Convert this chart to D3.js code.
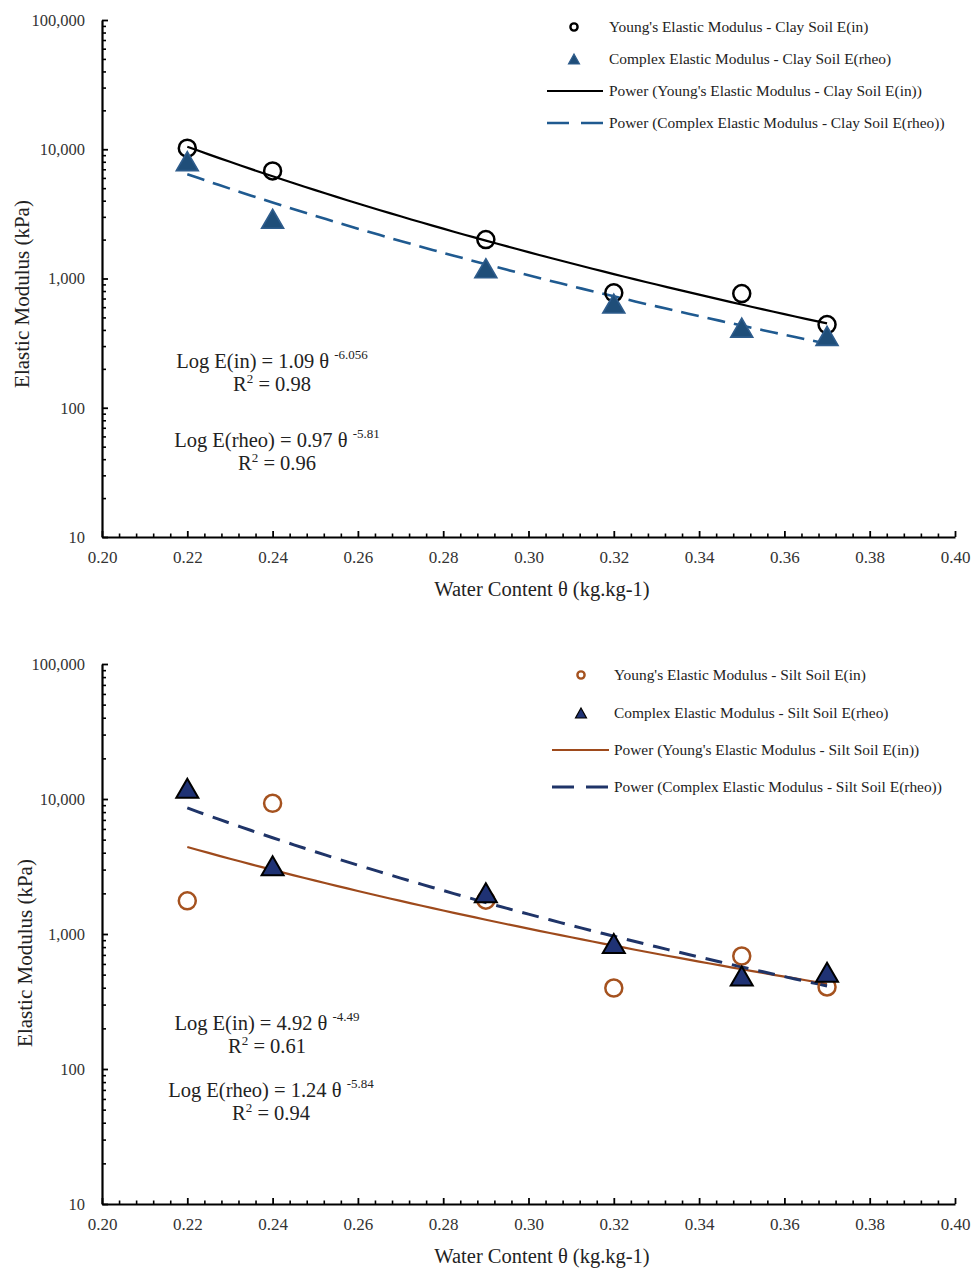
<!DOCTYPE html>
<html>
<head>
<meta charset="utf-8">
<script src="https://cdn.jsdelivr.net/npm/d3@7"></script>
<style>
  body { margin: 0; background: #fff; }
  svg { display: block; font-family: "Liberation Serif", "Times New Roman", serif; }
</style>
</head>
<body>
<div id="chart"></div>
<script>
// water content (x) shared by both panels
const theta = [0.22, 0.24, 0.29, 0.32, 0.35, 0.37];

// clay soil, kPa
const clayEin = [10200, 6800, 2000, 775, 765, 440];
const clayErheo = [8100, 2900, 1200, 640, 417, 360];
// silt soil, kPa
const siltEin = [1760, 9300, 1780, 398, 687, 405];
const siltErheo = [12000, 3200, 2020, 850, 489, 520];

// power trend coefficients E = a * theta^b (as printed on the chart)
const clayFitA = [1.09, 0.97];
const clayFitB = [-6.056, -5.81];
const siltFitA = [4.92, 1.24];
const siltFitB = [-4.49, -5.84];
const fitR2Clay = ["0.98", "0.96"];
const fitR2Silt = ["0.61", "0.94"];

const xTicks = [0.20, 0.22, 0.24, 0.26, 0.28, 0.30, 0.32, 0.34, 0.36, 0.38, 0.40];
const yTicks = [10, 100, 1000, 10000, 100000];

const legendClay = [
  "Young's Elastic Modulus - Clay Soil E(in)",
  "Complex Elastic Modulus - Clay Soil E(rheo)",
  "Power (Young's Elastic Modulus - Clay Soil E(in))",
  "Power (Complex Elastic Modulus - Clay Soil E(rheo))"
];
const legendSilt = [
  "Young's Elastic Modulus - Silt Soil E(in)",
  "Complex Elastic Modulus - Silt Soil E(rheo)",
  "Power (Young's Elastic Modulus - Silt Soil E(in))",
  "Power (Complex Elastic Modulus - Silt Soil E(rheo))"
];

const width = 971, height = 1268;

const svg = d3.select("#chart").append("svg")
    .attr("width", width)
    .attr("height", height)
    .attr("viewBox", [0, 0, width, height]);

// triangle centred on its bounding box, like the spreadsheet marker
function tri(w, h) {
  return `M0,${-h/2}L${w/2},${h/2}L${-w/2},${h/2}Z`;
}

function panel(opt) {
  const x = d3.scaleLinear().domain([0.2, 0.4]).range([102, 955]);
  const y = d3.scaleLog().domain([10, 100000]).range([opt.bottom, opt.top]);
  const g = svg.append("g");

  // minor ticks
  const xMinor = d3.range(0.204, 0.4, 0.004).filter(v => Math.abs(v * 50 - Math.round(v * 50)) > 1e-6);
  const yMinor = [];
  for (let p = 10; p < 100000; p *= 10) for (let k = 2; k <= 9; k++) yMinor.push(p * k);

  g.append("g")
      .attr("transform", `translate(0,${opt.bottom})`)
      .call(d3.axisBottom(x).tickValues(xMinor).tickSize(-3.5).tickFormat(""))
      .call(a => a.select(".domain").remove())
      .call(a => a.selectAll("line").attr("stroke", "#000").attr("stroke-width", 1.6));
  g.append("g")
      .attr("transform", "translate(102,0)")
      .call(d3.axisLeft(y).tickValues(yMinor).tickSize(-4).tickFormat(""))
      .call(a => a.select(".domain").remove())
      .call(a => a.selectAll("line").attr("stroke", "#000").attr("stroke-width", 1.6));

  // major axes
  g.append("g")
      .attr("transform", `translate(0,${opt.bottom})`)
      .call(d3.axisBottom(x).tickValues(xTicks).tickSizeInner(-6).tickSizeOuter(0)
        .tickPadding(14).tickFormat(d3.format(".2f")))
      .call(a => a.select(".domain").attr("stroke", "#000").attr("stroke-width", 2.2))
      .call(a => a.selectAll("line").attr("stroke", "#000").attr("stroke-width", 1.8))
      .call(a => a.selectAll("text").attr("font-size", 17).attr("fill", "#333")
        .attr("font-family", "Liberation Serif"));
  g.append("g")
      .attr("transform", "translate(102,0)")
      .call(d3.axisLeft(y).tickValues(yTicks).tickSizeInner(-6).tickSizeOuter(0)
        .tickPadding(17).tickFormat(d3.format(",")))
      .call(a => a.select(".domain").attr("stroke", "#000").attr("stroke-width", 2.2))
      .call(a => a.selectAll("line").attr("stroke", "#000").attr("stroke-width", 1.8))
      .call(a => a.selectAll("text").attr("font-size", 16.5).attr("fill", "#333")
        .attr("font-family", "Liberation Serif"));

  // axis titles
  g.append("text")
      .attr("x", 542).attr("y", opt.bottom + 59)
      .attr("text-anchor", "middle").attr("font-size", 20.5).attr("fill", "#222")
      .text("Water Content θ (kg.kg-1)");
  g.append("text")
      .attr("transform", `translate(${opt.yTitleX},${opt.yTitleY}) rotate(-90)`)
      .attr("text-anchor", "middle").attr("dy", "0.35em")
      .attr("font-size", 21).attr("fill", "#222")
      .text("Elastic Modulus (kPa)");

  // power trend lines
  const line = d3.line().x(d => x(d[0])).y(d => y(d[1]));
  const span = d3.range(theta[0], theta[theta.length - 1] + 1e-9, 0.0025);
  [0, 1].forEach(i => {
    g.append("path")
        .datum(span.map(t => [t, opt.fitA[i] * Math.pow(t, opt.fitB[i])]))
        .attr("d", line)
        .attr("fill", "none")
        .attr("stroke", opt.lineColor[i])
        .attr("stroke-width", opt.lineWidth[i])
        .attr("stroke-dasharray", i === 1 ? opt.dash : null);
  });

  // markers
  g.append("g").selectAll("circle")
    .data(theta.map((t, i) => [t, opt.ein[i]]))
    .join("circle")
      .attr("cx", d => x(d[0]))
      .attr("cy", d => y(d[1]))
      .attr("r", 8.5)
      .attr("fill", "none")
      .attr("stroke", opt.circleColor)
      .attr("stroke-width", 2.5);
  g.append("g").selectAll("path")
    .data(theta.map((t, i) => [t, opt.erheo[i]]))
    .join("path")
      .attr("transform", d => `translate(${x(d[0])},${y(d[1])})`)
      .attr("d", tri(22, 19))
      .attr("fill", opt.triFill)
      .attr("stroke", opt.triStroke)
      .attr("stroke-width", opt.triStrokeW)
      .attr("stroke-linejoin", "miter");

  // equations
  opt.eq.forEach((e, i) => {
    const t = g.append("text")
        .attr("x", e.cx).attr("y", e.y)
        .attr("text-anchor", "middle").attr("font-size", 20.5).attr("fill", "#222");
    t.append("tspan").text(`Log E(${e.name}) = ${opt.fitA[i].toFixed(2)} θ `);
    t.append("tspan").attr("dy", -9).attr("font-size", 13).text(String(opt.fitB[i]));
    const r = g.append("text")
        .attr("x", e.cx).attr("y", e.y + 23)
        .attr("text-anchor", "middle").attr("font-size", 20.5).attr("fill", "#222");
    r.append("tspan").text("R");
    r.append("tspan").attr("dy", -8).attr("font-size", 13).text("2");
    r.append("tspan").attr("dy", 8).text(` = ${opt.r2[i]}`);
  });

  // legend
  const lg = g.append("g").attr("font-size", 15.4).attr("fill", "#222");
  opt.legend.forEach((label, i) => {
    const ly = opt.legendY[i];
    if (i === 0) {
      lg.append("circle").attr("cx", opt.legendMark).attr("cy", ly).attr("r", 3.6)
        .attr("fill", "none").attr("stroke", opt.circleColor).attr("stroke-width", 2.4);
    } else if (i === 1) {
      lg.append("path").attr("transform", `translate(${opt.legendMark},${ly})`)
        .attr("d", tri(11, 10)).attr("fill", opt.triFill)
        .attr("stroke", opt.triStroke).attr("stroke-width", 1.2);
    } else {
      const k = i - 2;
      lg.append("line")
        .attr("x1", opt.legendLine[0]).attr("x2", opt.legendLine[1])
        .attr("y1", ly).attr("y2", ly)
        .attr("stroke", opt.lineColor[k]).attr("stroke-width", opt.lineWidth[k])
        .attr("stroke-dasharray", k === 1 ? "22,12" : null);
    }
    lg.append("text").attr("x", opt.legendText).attr("y", ly).attr("dy", "0.33em").text(label);
  });
}

panel({
  top: 20, bottom: 537,
  ein: clayEin, erheo: clayErheo,
  fitA: clayFitA, fitB: clayFitB, r2: fitR2Clay,
  lineColor: ["#000000", "#1F5A90"], lineWidth: [2.2, 2.6], dash: "18,9",
  circleColor: "#000000", triFill: "#1F4E79", triStroke: "#2E5C8C", triStrokeW: 1.6,
  yTitleX: 22, yTitleY: 294,
  eq: [{ name: "in", cx: 272, y: 368 }, { name: "rheo", cx: 277, y: 447 }],
  legend: legendClay, legendY: [27, 59, 91, 123],
  legendMark: 574, legendLine: [547, 603], legendText: 609
});

panel({
  top: 664, bottom: 1204,
  ein: siltEin, erheo: siltErheo,
  fitA: siltFitA, fitB: siltFitB, r2: fitR2Silt,
  lineColor: ["#9E4A1C", "#1F3468"], lineWidth: [2.2, 3], dash: "17,10",
  circleColor: "#A5521F", triFill: "#1F3274", triStroke: "#000000", triStrokeW: 2,
  yTitleX: 25, yTitleY: 953,
  eq: [{ name: "in", cx: 267, y: 1030 }, { name: "rheo", cx: 271, y: 1097 }],
  legend: legendSilt, legendY: [675, 713, 750, 787],
  legendMark: 581, legendLine: [552, 609], legendText: 614
});
</script>
</body>
</html>
